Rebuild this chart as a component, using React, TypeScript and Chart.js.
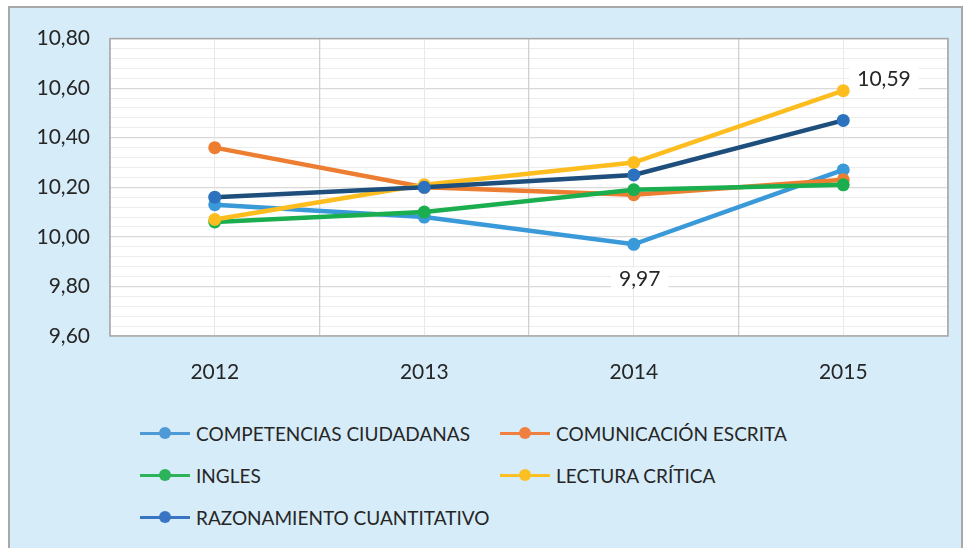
import React, { useEffect, useRef } from "react";
import { Chart, registerables } from "chart.js";

Chart.register(...registerables);

const categories = ["2012", "2013", "2014", "2015"];
const competencias = [10.13, 10.08, 9.97, 10.27];
const comunicacion = [10.36, 10.2, 10.17, 10.23];
const ingles = [10.06, 10.1, 10.19, 10.21];
const lectura = [10.07, 10.21, 10.3, 10.59];
const razonamiento = [10.16, 10.2, 10.25, 10.47];

const seriesNames = [
  "COMPETENCIAS CIUDADANAS",
  "COMUNICACIÓN ESCRITA",
  "INGLES",
  "LECTURA CRÍTICA",
  "RAZONAMIENTO CUANTITATIVO",
];
const lineColors = ["#3A9AD9", "#ED7D31", "#1AAE4F", "#FDBD1F", "#1E4F7C"];
const pointColors = ["#3A9AD9", "#ED7D31", "#1AAE4F", "#FDBD1F", "#2C72BE"];
const legendColors = ["#4E9AD6", "#F08040", "#2DB35A", "#FCC025", "#3A75C4"];

const yTicks = { min: 9.6, max: 10.8, step: 0.2, minorStep: 0.04 };

const FONT = "Lato, 'Open Sans', sans-serif";
const TEXT = "#262626";

const fmt = (v: number) => v.toFixed(2).replace(".", ",");

const labelPlugin = {
  id: "valueLabels",
  beforeDatasetsDraw(chart: any) {
    const { ctx, chartArea } = chart;
    ctx.save();
    ctx.strokeStyle = "#A6A6A6";
    ctx.lineWidth = 1.5;
    ctx.strokeRect(chartArea.left, chartArea.top, chartArea.right - chartArea.left, chartArea.bottom - chartArea.top);
    ctx.restore();
  },
  beforeDraw(chart: any) {
    const { ctx, chartArea } = chart;
    ctx.save();
    ctx.fillStyle = "#FFFFFF";
    ctx.fillRect(chartArea.left, chartArea.top, chartArea.right - chartArea.left, chartArea.bottom - chartArea.top);
    ctx.restore();
  },
  afterDatasetsDraw(chart: any) {
    const ctx = chart.ctx;
    const specs = [
      { ds: 3, idx: 3, dx: 14, dy: -12, align: "left" },
      { ds: 0, idx: 2, dx: 6, dy: 34, align: "center" },
    ];
    ctx.save();
    ctx.font = `21px ${FONT}`;
    ctx.textBaseline = "middle";
    for (const s of specs) {
      const el = chart.getDatasetMeta(s.ds).data[s.idx];
      const v = chart.data.datasets[s.ds].data[s.idx] as number;
      const txt = fmt(v);
      const w = ctx.measureText(txt).width;
      const cx = s.align === "left" ? el.x + s.dx + w / 2 : el.x + s.dx;
      const cy = el.y + s.dy;
      ctx.fillStyle = "#FFFFFF";
      ctx.fillRect(cx - w / 2 - 8, cy - 11, w + 16, 22);
      ctx.fillStyle = TEXT;
      ctx.textAlign = "center";
      ctx.fillText(txt, cx, cy + 1);
    }
    ctx.restore();
  },
};

export default function App() {
  const ref = useRef<HTMLCanvasElement>(null);

  useEffect(() => {
    const values = [competencias, comunicacion, ingles, lectura, razonamiento];
    const chart = new Chart(ref.current as HTMLCanvasElement, {
      type: "line",
      data: {
        labels: categories,
        datasets: values.map((d, i) => ({
          label: seriesNames[i],
          data: d,
          borderColor: lineColors[i],
          backgroundColor: pointColors[i],
          pointBackgroundColor: pointColors[i],
          pointBorderWidth: 0,
          pointRadius: 6.5,
          borderWidth: 4.5,
          tension: 0,
          order: 4 - i,
        })),
      },
      options: {
        animation: false,
        responsive: false,
        devicePixelRatio: 1,
        layout: { padding: { top: 31, right: 15, left: 0, bottom: 0 } },
        plugins: { legend: { display: false }, tooltip: { enabled: false } },
        scales: {
          yMinor: {
            type: "linear",
            position: "left",
            min: yTicks.min,
            max: yTicks.max,
            ticks: { display: false, stepSize: yTicks.minorStep, maxTicksLimit: 100 },
            grid: { color: "#EDEDED", lineWidth: 1, drawTicks: false },
            border: { display: false },
            afterFit: (s: any) => { s.width = 0; },
          },
          y: {
            type: "linear",
            position: "left",
            min: yTicks.min,
            max: yTicks.max,
            ticks: {
              stepSize: yTicks.step,
              padding: 20,
              color: TEXT,
              font: { family: FONT, size: 21 },
              callback: (v: any) => fmt(Number(v)),
            },
            grid: { color: "#D9D9D9", lineWidth: 1.3, drawTicks: false },
            border: { display: false },
            afterFit: (s: any) => { s.width = 102; },
          },
          x2: {
            type: "category",
            position: "bottom",
            offset: true,
            ticks: { display: false },
            grid: { offset: false, color: "#E8E8E8", lineWidth: 1, drawTicks: false },
            border: { display: false },
            afterFit: (s: any) => { s.height = 0; },
          },
          x: {
            type: "category",
            position: "bottom",
            offset: true,
            ticks: { padding: 24, color: TEXT, font: { family: FONT, size: 21 } },
            grid: { offset: true, color: "#D0D0D0", lineWidth: 1.3, drawTicks: false },
            border: { display: false },
            afterFit: (s: any) => { s.height = 70; },
          },
        },
      } as any,
      plugins: [labelPlugin],
    });
    return () => chart.destroy();
  }, []);

  const legendItems = [
    { i: 0, col: 0, row: 0 },
    { i: 1, col: 1, row: 0 },
    { i: 2, col: 0, row: 1 },
    { i: 3, col: 1, row: 1 },
    { i: 4, col: 0, row: 2 },
  ];
  const colX = [132, 492];
  const rowY = [427, 469, 511];

  return (
    <div
      style={{
        position: "absolute",
        left: 8,
        top: 6,
        width: 955,
        height: 548,
        background: "#D6ECF9",
        boxShadow: "inset 0 0 0 2px #A8A8A8",
        overflow: "hidden",
      }}
    >
      <canvas ref={ref} width={955} height={400} style={{ position: "absolute", left: 0, top: 0, width: 955, height: 400 }} />
      {legendItems.map((it) => (
        <div
          key={it.i}
          style={{
            position: "absolute",
            left: colX[it.col],
            top: rowY[it.row] - 14,
            height: 28,
            display: "flex",
            alignItems: "center",
            fontFamily: FONT,
            fontSize: 19,
            color: TEXT,
            whiteSpace: "nowrap",
          }}
        >
          <span style={{ position: "relative", width: 50, height: 28, marginRight: 6, display: "inline-block" }}>
            <span style={{ position: "absolute", left: 0, top: 12.5, width: 50, height: 3, background: legendColors[it.i] }} />
            <span style={{ position: "absolute", left: 19, top: 8, width: 12, height: 12, borderRadius: 6, background: legendColors[it.i] }} />
          </span>
          <span>{seriesNames[it.i]}</span>
        </div>
      ))}
    </div>
  );
}
